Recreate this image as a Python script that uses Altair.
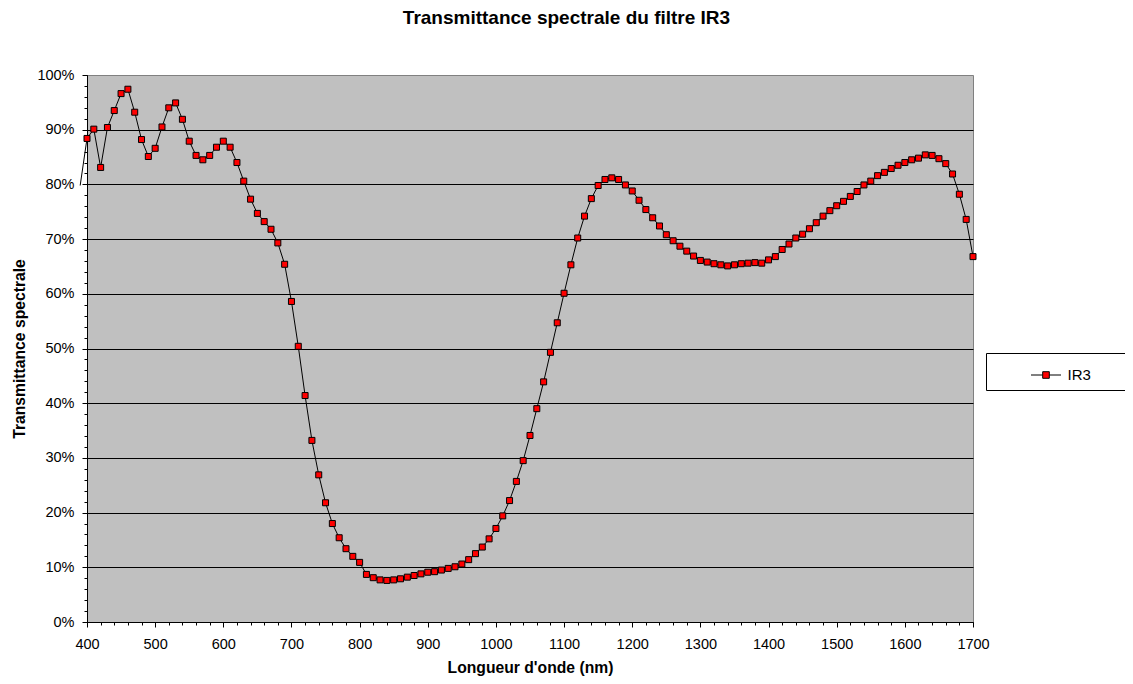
import altair as alt
import pandas as pd

FONT = "Liberation Sans"

wavelengths = list(range(400, 1710, 10))
transmittance = [
    88.4, 90.1, 83.1, 90.4, 93.5, 96.6, 97.4, 93.2, 88.2, 85.1,
    86.6, 90.5, 94.0, 94.9, 91.9, 87.9, 85.3, 84.5, 85.3, 86.8,
    87.9, 86.8, 84.0, 80.6, 77.3, 74.7, 73.2, 71.8, 69.3, 65.4,
    58.6, 50.4, 41.4, 33.2, 26.9, 21.8, 18.0, 15.4, 13.4, 12.0,
    10.9, 8.7, 8.1, 7.7, 7.6, 7.7, 7.9, 8.2, 8.5, 8.8,
    9.1, 9.2, 9.5, 9.8, 10.1, 10.6, 11.4, 12.5, 13.7, 15.2,
    17.1, 19.4, 22.2, 25.7, 29.5, 34.1, 39.0, 43.9, 49.3, 54.7,
    60.1, 65.3, 70.2, 74.2, 77.4, 79.8, 80.9, 81.2, 80.9, 79.9,
    78.8, 77.1, 75.4, 73.9, 72.4, 70.8, 69.7, 68.7, 67.8, 66.9,
    66.1, 65.8, 65.5, 65.3, 65.1, 65.3, 65.5, 65.6, 65.7, 65.6,
    66.2, 66.8, 68.1, 69.1, 70.2, 70.9, 71.9, 73.0, 74.2, 75.2,
    76.1, 76.9, 77.8, 78.7, 79.9, 80.6, 81.6, 82.2, 82.9, 83.5,
    84.0, 84.5, 84.8, 85.4, 85.3, 84.7, 83.8, 81.9, 78.2, 73.6,
    66.8,
]
# segment entering from the left of the plot (previous measurement)
lead_in_wavelength = [390]
lead_in_value = [79.8]

series_name = "IR3"
x_major = list(range(400, 1800, 100))
x_minor = list(range(400, 1720, 20))
y_major = list(range(0, 110, 10))
y_grid = list(range(10, 100, 10))
y_minor = list(range(0, 102, 2))

pts = pd.DataFrame({"wl": wavelengths, "t": transmittance, "series": series_name})
line_df = pd.DataFrame({
    "wl": lead_in_wavelength + wavelengths,
    "t": lead_in_value + transmittance,
})

xscale = alt.Scale(domain=[400, 1700], nice=False, zero=False)
yscale = alt.Scale(domain=[0, 100], nice=False)

common_axis = dict(labelFont=FONT, titleFont=FONT, labelColor="black", titleColor="black",
                   tickColor="black", domainColor="black")

line = alt.Chart(line_df).mark_line(color="black", strokeWidth=1, clip=False).encode(
    x=alt.X("wl:Q", scale=xscale, axis=alt.Axis(orient="bottom", values=x_minor, tickSize=3,
                                                 labels=False, domain=False, title=None,
                                                 grid=False, tickColor="black", tickWidth=1)),
    y=alt.Y("t:Q", scale=yscale, axis=alt.Axis(orient="left", values=y_grid, grid=True,
                                                gridColor="black", gridWidth=1, gridOpacity=1,
                                                ticks=False, labels=False, domain=False,
                                                title=None)),
)

minor_y = alt.Chart(pts).mark_point(opacity=0).encode(
    x=alt.X("wl:Q", scale=xscale, axis=None),
    y=alt.Y("t:Q", scale=yscale, axis=alt.Axis(orient="left", values=y_minor, tickSize=3,
                                                labels=False, domain=False, title=None,
                                                grid=False, tickColor="black", tickWidth=1)),
)

points = alt.Chart(pts).mark_point(shape="square", filled=True, size=36, stroke="black",
                                   strokeWidth=1, opacity=1).encode(
    x=alt.X("wl:Q", scale=xscale, axis=alt.Axis(orient="bottom", values=x_major, format="d",
                                                 tickSize=5, tickWidth=1, labelFontSize=14.5,
                                                 labelPadding=10, labelFlush=False,
                                                 title="Longueur d'onde (nm)", titleFontSize=15.7,
                                                 titleFontWeight="bold", titlePadding=10,
                                                 grid=False, domainWidth=1, **common_axis)),
    y=alt.Y("t:Q", scale=yscale, axis=alt.Axis(orient="left", values=y_major,
                                                labelExpr="datum.value + '%'", labelFlush=False,
                                                tickSize=5, tickWidth=1, labelFontSize=14.5,
                                                labelPadding=8, title="Transmittance spectrale",
                                                titleFontSize=15.7, titleFontWeight="bold",
                                                titlePadding=9, grid=False, domainWidth=1,
                                                **common_axis)),
    fill=alt.Fill("series:N", scale=alt.Scale(domain=[series_name], range=["#FF0000"]),
                  legend=alt.Legend(title="IR3", titleOrient="right",
                                    titleOpacity=0, titleFontSize=15, titleFont=FONT,
                                    titlePadding=10,
                                    orient="none", legendX=899, legendY=278,
                                    symbolType="M-1,0H-0.22M0.22,0H1M-0.22,-0.22H0.22V0.22H-0.22Z",
                                    symbolSize=900, symbolStrokeWidth=1, symbolStrokeColor="black",
                                    strokeColor="black", fillColor="white", padding=6.5,
                                    labelFont=FONT, labelFontSize=15, labelColor="black",
                                    labelOffset=6, symbolOffset=38)),
)

chart = alt.layer(line, minor_y, points).resolve_axis(x="independent", y="independent").properties(
    width=886, height=547,
    padding={"left": 79, "top": 67, "right": 152, "bottom": 54},
    autosize=alt.AutoSizeParams(type="none"),
    title=alt.TitleParams("Transmittance spectrale du filtre IR3", font=FONT, fontSize=19,
                          fontWeight="bold", color="black", anchor="middle", dx=36.5, offset=39),
    background="white",
).configure_view(fill="#C0C0C0", stroke="#808080", strokeWidth=1)

chart.save("out.html", embed_options={"renderer": "svg", "actions": False})
